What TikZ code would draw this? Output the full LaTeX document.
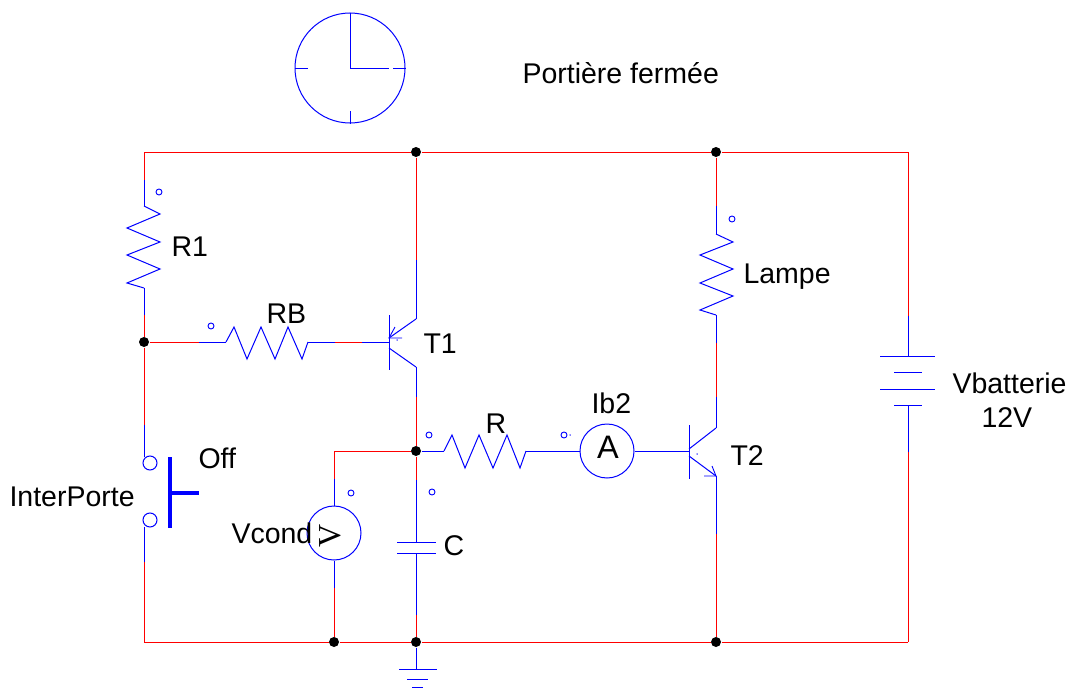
\documentclass[tikz,border=0pt]{standalone}
\usepackage{fontspec}
\setmainfont{Liberation Sans}
\newfontfamily\meterfont{Liberation Serif}
\begin{document}
\begin{tikzpicture}[x=1pt,y=-1pt,line width=1pt,
    redwire/.style={draw=red,line join=miter},
    bluewire/.style={draw=blue,line join=miter},
    junct/.style={circle,fill=black,inner sep=0pt,minimum size=10pt},
    pin/.style={circle,draw=blue,line width=0.9pt,inner sep=0pt,minimum size=6pt},
    speck/.style={circle,fill=blue,inner sep=0pt,minimum size=1.5pt},
    meter/.style={circle,draw=blue,inner sep=0pt,minimum size=54pt},
    contact/.style={circle,draw=blue,inner sep=0pt,minimum size=14pt},
    lbl/.style={anchor=base west,inner sep=0pt,font=\fontsize{28.5}{28.5}\selectfont}]
    \useasboundingbox (0,0) rectangle (1069,688);
    % junctions
    \foreach \n/\x/\y in {jtop/416/152,jlamp/716/152,jbase/144/342,jcap/416/451,jv/334/642,jgnd/416/642,jt/716/642}
        \node[junct] (\n) at (\x,\y) {};
    % pins
    \foreach \n/\x/\y in {pr1/159/192,prb/211/326,pr/429/435,pa/564/435,pl/732/219,pv/351/493,pc/432/492}
        \node[pin] (\n) at (\x,\y) {};
    \foreach \n/\x/\y in {s1/397/340,s2/697/454,s3/570/435}
        \node[speck] (\n) at (\x,\y) {};
    % corners and lead ends
    \foreach \n/\x/\y in {tl/144/152,tr/908/152,bl/144/642,br/908/642,
        ra/144/180,rb/144/206,rc/144/288,rd/144/315,
        ba/199/342,bb/226/342,bc/308/342,bd/335/342,be/362/342,
        ta/416/260,tb/416/319,tc/416/367,td/416/397,
        ca/416/480,cb/416/542,cc/416/553,cd/416/615,
        va/334/451,vb/334/479,vc/334/588,
        sa/144/425,sb/144/457,sc/144/527,sd/144/562,
        ga/416/669,
        la/716/206,lb/716/234,lc/716/315,ld/716/343,le/716/397,lf/716/428,lg/716/476,lh/716/534,
        da/908/316,db/908/356,dc/908/405,dd/908/452,
        na/444/451,nb/526/451,
        t1b/389/342,t2b/689/451}
        \coordinate (\n) at (\x,\y);
    % meters
    \node[meter] (mv) at (334,533) {};
    \node[meter] (ma) at (607,451) {};
    \node[anchor=base,inner sep=0pt,font=\fontsize{32.5}{32.5}\selectfont] (mat) at (608,458) {A};
    \node[rotate=90,inner sep=0pt,font=\meterfont\fontsize{32}{32}\selectfont] (mvt) at (330.5,535.5) {V};
    % switch
    \node[contact] (k1) at (150,463) {};
    \node[contact] (k2) at (150,520) {};
    \coordinate (kt) at (170,457);
    \coordinate (kb) at (170,528);
    \coordinate (km) at (170,493);
    \coordinate (kh) at (199,493);
    \draw[bluewire,line width=4pt] (kt) -- (kb) (km) -- (kh);
    % red wires
    \foreach \a/\b in {tl/jtop,jtop/jlamp,jlamp/tr,tr/da,tl/ra,rd/jbase,jbase/ba,bd/be,jbase/sa,sd/bl,
        bl/jv,jv/jgnd,jgnd/jt,jt/br,br/dd,jtop/ta,td/jcap,jcap/ca,cd/jgnd,jcap/va,va/vb,vc/jv,
        jlamp/la,ld/le,lh/jt}
        \draw[redwire] (\a) -- (\b);
    % blue wires
    \foreach \a/\b in {ra/rb,rc/rd,ba/bb,bc/bd,be/t1b,ta/tb,tc/td,ca/cb,cc/cd,jgnd/ga,la/lb,lc/ld,le/lf,lg/lh,
        da/db,dc/dd,jcap/na,nb/ma,ma/t2b,vb/mv,mv/vc,sa/sb,sc/sd}
        \draw[bluewire] (\a) -- (\b);
    % resistors
    \draw[bluewire] (rb) -- (160,214) -- (127,228) -- (160,242) -- (127,255) -- (160,269) -- (127,283) -- (rc);
    \draw[bluewire] (bb) -- (234,327) -- (247,359) -- (261,327) -- (275,359) -- (288,327) -- (302,359) -- (bc);
    \draw[bluewire] (na) -- (452,435) -- (465,468) -- (479,435) -- (493,468) -- (507,435) -- (520,468) -- (nb);
    \draw[bluewire] (lb) -- (733,242) -- (700,255) -- (733,269) -- (700,283) -- (733,296) -- (700,310) -- (lc);
    % transistor T1
    \draw[bluewire] (389,315) -- (389,370);
    \draw[bluewire] (tb) -- (389,338) (389,348) -- (tc);
    \draw[bluewire,line width=0.9pt] (395,327) -- (389,338) -- (402,338);
    % transistor T2
    \draw[bluewire] (689,425) -- (689,479);
    \draw[bluewire] (lf) -- (689,449) (689,456) -- (lg);
    \draw[bluewire,line width=0.9pt] (712,466) -- (lg) -- (704,476);
    % capacitor
    \draw[bluewire] (397,542) -- (436,542) (397,553) -- (436,553);
    % ground
    \draw[bluewire] (399,669) -- (437,669) (407,679) -- (428,679) (412,687) -- (423,687);
    % battery
    \draw[bluewire] (880,356) -- (935,356) (894,372) -- (922,372) (880,389) -- (935,389) (894,405) -- (922,405);
    % clock
    \node[circle,draw=blue,inner sep=0pt,minimum size=110pt] (clk) at (350,68) {};
    \draw[bluewire] (clk.north) -- (clk.center) -- (389,68);
    \draw[bluewire] (393,68) -- (clk.east) (clk.west) -- (308,68) (350,111) -- (clk.south);
    % labels
    \foreach \t/\x/\y in {Portière fermée/522/83,R1/171/256,RB/266/323,T1/423/353,Off/198/468,InterPorte/9/506,
        Vcond/231/543,C/443/555,R/485/433,Ib2/591/413,T2/730/465,Lampe/743/283,Vbatterie/952/393,12V/981/427}
        \node[lbl] (lbl\x) at (\x,\y) {\t};
\end{tikzpicture}
\end{document}
